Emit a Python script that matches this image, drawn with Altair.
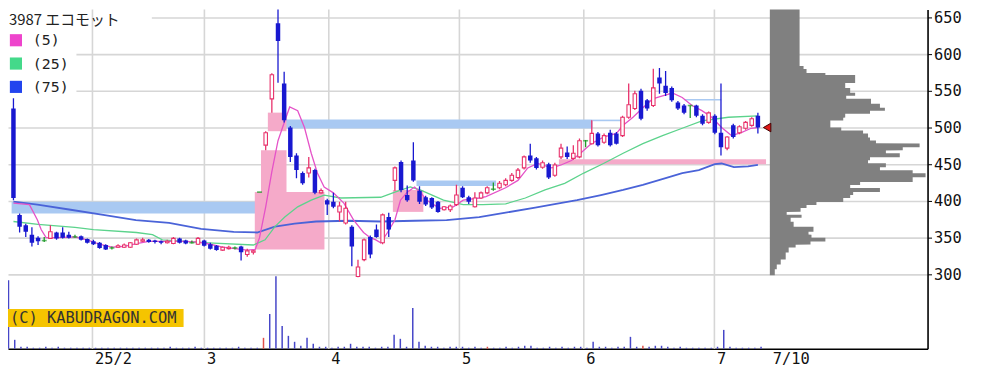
import altair as alt
import pandas as pd

# ---------------- data ----------------
opens = [526, 381, 367, 354, 350, 346, 349, 357, 357, 354, 351, 352, 348, 345, 343, 340, 336, 337, 337, 337,
         341, 345, 347, 346, 345, 343, 342, 349, 346, 343, 341, 346, 341, 339, 333, 335, 336, 338, 327, 330,
         412, 476, 539, 642, 560, 500, 462, 438, 438, 442, 411, 401, 399, 385, 370, 365, 297, 320, 351, 361,
         343, 378, 428, 453, 408, 455, 414, 405, 404, 399, 388, 388, 395, 418, 405, 392, 404, 411, 416, 418,
         422, 428, 432, 445, 462, 458, 446, 450, 435, 460, 466, 458, 460, 482, 478, 492, 480, 493, 492, 489,
         514, 526, 550, 537, 530, 568, 557, 554, 534, 530, 530, 530, 516, 507, 516, 493, 472, 503, 493, 499,
         503, 516]
highs = [540, 383, 369, 364, 352, 351, 367, 358, 364, 358, 354, 353, 349, 347, 344, 341, 338, 341, 342, 344,
         349, 350, 348, 347, 346, 347, 351, 350, 347, 346, 351, 347, 343, 340, 338, 339, 338, 339, 335, 333,
         412, 495, 574, 680, 576, 502, 465, 440, 460, 444, 417, 403, 411, 399, 399, 367, 320, 349, 353, 368,
         383, 384, 447, 455, 421, 480, 420, 407, 405, 400, 393, 395, 422, 420, 407, 412, 413, 420, 425, 427,
         431, 438, 445, 462, 478, 460, 455, 452, 452, 478, 474, 476, 485, 483, 510, 494, 492, 497, 494, 516,
         560, 550, 553, 539, 580, 581, 577, 556, 536, 532, 530, 531, 518, 522, 518, 560, 488, 505, 503, 509,
         514, 520]
lows = [401, 357, 351, 338, 340, 344, 348, 347, 349, 349, 350, 346, 342, 340, 335, 333, 334, 336, 336, 336,
        340, 344, 343, 342, 341, 342, 341, 342, 341, 342, 340, 338, 334, 332, 332, 334, 334, 319, 324, 327,
        412, 469, 520, 561, 507, 453, 431, 422, 432, 409, 410, 381, 390, 372, 368, 311, 296, 318, 322, 350,
        341, 351, 414, 412, 399, 426, 396, 393, 389, 384, 387, 385, 393, 404, 396, 391, 403, 409, 414, 416,
        420, 426, 430, 443, 452, 443, 444, 430, 433, 457, 457, 456, 458, 473, 477, 474, 478, 474, 477, 487,
        512, 524, 510, 523, 528, 546, 543, 535, 524, 518, 513, 514, 503, 505, 491, 462, 469, 485, 491, 497,
        501, 492]
closes = [404, 365, 358, 343, 345, 346, 358, 349, 350, 350, 351, 347, 343, 341, 336, 334, 336, 339, 340, 343,
          347, 347, 344, 344, 343, 345, 349, 343, 342, 343, 349, 339, 335, 333, 337, 337, 336, 330, 332, 332,
          412, 493, 572, 618, 510, 460, 442, 424, 445, 411, 414, 395, 392, 393, 390, 338, 310, 347, 327, 351,
          381, 361, 445, 415, 401, 428, 399, 395, 391, 385, 392, 393, 408, 405, 399, 404, 411, 418, 416, 424,
          428, 435, 442, 460, 455, 445, 452, 432, 449, 472, 460, 465, 482, 482, 492, 476, 489, 476, 478, 514,
          531, 546, 512, 526, 554, 560, 547, 537, 526, 520, 530, 516, 505, 520, 493, 473, 487, 487, 501, 507,
          512, 500]
volumes = [69, 9, 2, 2, 1, 1, 2, 1, 2, 1, 1, 1, 1, 1, 1, 1, 1, 1, 1, 1,
           1, 1, 1, 1, 1, 1, 2, 1, 1, 1, 2, 1, 1, 1, 1, 1, 1, 2, 1, 1,
           1, 11, 35, 73, 23, 13, 7, 3, 11, 5, 2, 2, 1, 2, 2, 5, 2, 2, 2, 1,
           2, 2, 14, 10, 2, 41, 7, 3, 2, 2, 1, 2, 2, 2, 1, 2, 1, 2, 1, 1,
           2, 1, 2, 3, 3, 1, 1, 2, 1, 2, 1, 2, 2, 1, 7, 2, 2, 1, 2, 2,
           12, 2, 3, 2, 3, 3, 2, 1, 2, 1, 1, 1, 1, 1, 2, 19, 2, 1, 1, 1,
           1, 2]
red_volume_days = [41, 77, 102]

ma5_idx = [0, 2.6, 3.9, 4.5, 5.3, 7, 10, 12, 14, 16, 18, 20, 22, 25, 28, 30, 32, 34, 36, 38, 39.3, 40, 41, 42, 43,
           44.1, 44.9, 46.2, 47.3, 48.4, 49.4, 50.5, 52, 53.7, 55.3, 56.9, 58, 58.9, 59.7, 60.8, 62, 62.9, 64,
           65.2, 66.1, 67.2, 68.3, 69.3, 71.5, 73.1, 75.7, 76.8, 80, 82, 83.6, 85.2, 87.5, 89, 90.7, 92.3, 93.9,
           95.9, 98, 99.1, 100.7, 102.3, 103.9, 105.5, 107.1, 108.7, 110.3, 111.9, 113.5, 115.1, 116.7, 118.3,
           119.9, 121]
ma5_val = [397, 395, 374, 361, 350, 350, 351, 347, 341, 337, 338, 342, 345, 345, 345, 344, 341, 337, 335, 333, 334,
           350, 392, 440, 482, 509, 528, 523, 500, 465, 438, 419, 411, 397, 374, 357, 350, 347, 343, 357, 374, 401,
           412, 419, 412, 401, 395, 390, 392, 401, 404, 406, 418, 428, 445, 451, 445, 449, 455, 466, 478, 487, 492,
           503, 514, 527, 539, 543, 547, 541, 530, 523, 514, 500, 489, 493, 499, 500]
ma25_idx = [0, 4, 10, 13, 20, 22.6, 24.2, 31.7, 39, 40.9, 42.5, 44.1, 46.2, 48.4, 50.5, 53.2, 59.7, 62, 64.5, 66.1,
            69.9, 73.1, 76.3, 80, 83.2, 86.4, 89.6, 92.7, 95.9, 99.1, 102.3, 105.5, 108.7, 111.9, 116.2, 121]
ma25_val = [372, 368, 364, 361, 357, 354, 347, 343, 340, 347, 365, 378, 392, 401, 408, 404, 405, 412, 419, 415,
            401, 395, 395, 396, 404, 415, 424, 438, 451, 465, 478, 489, 499, 509, 514, 516]
ma75_idx = [0, 3.9, 9.3, 14.6, 19.9, 25.3, 30.5, 35.8, 39.6, 42.5, 45.7, 49.2, 54.5, 59.7, 65.2, 70.4, 75.7, 80,
            84.8, 87.5, 91.6, 95.5, 99.1, 102.3, 106, 108.7, 111.4, 114, 115.1, 117.1, 119.4, 121]
ma75_val = [399, 395, 388, 381, 374, 370, 362, 358, 357, 365, 369, 372, 373, 372, 373, 374, 378, 384, 391, 395,
            401, 408, 415, 422, 431, 438, 442, 450, 451, 446, 447, 449]

# unfilled down-gaps (light blue) and up-gaps (pink)
blue_gap_x0 = [0.5, 44.6, 93.9, 65.6, 108.7]
blue_gap_x1 = [39.8, 93.9, 98.6, 78.4, 114.6]
blue_gap_lo = [383.0, 498.6, 508.6, 420.5, 536.9]
blue_gap_hi = [399.0, 510.8, 510.8, 428.0, 538.9]
pink_gap_x0 = [39.6, 40.6, 41.7, 61.8, 88.5]
pink_gap_x1 = [50.8, 44.7, 44.7, 66.7, 121.8]
pink_gap_lo = [333.8, 412.2, 495.0, 385.1, 450.0]
pink_gap_hi = [412.2, 468.9, 520.3, 414.9, 456.8]

# price-by-volume profile (bin edges from top, lengths)
profile_edges = [680, 583.8, 579.7, 574.3, 571.6, 560.8, 554, 547.3, 543.2, 539.2, 532.4, 527, 523, 518.9, 513.5,
                 509.5, 505.4, 500, 495.9, 491.9, 486.5, 482.4, 478.4, 473, 468.9, 464.9, 459.5, 455.4, 451.3, 446,
                 441.9, 437.8, 432.4, 425.7, 421.6, 417.6, 412.2, 408.1, 404.1, 398.6, 394.6, 390.5, 385.1, 381.1,
                 377, 371.6, 364.9, 358.1, 354.1, 350, 344.6, 340.5, 336.5, 329.7, 320.3, 313.5, 306.8, 298.6]
profile_len = [30, 34, 37, 56, 86, 76, 81, 86, 77, 102, 111, 116, 101, 76, 74, 61, 61, 72, 94, 99, 101, 107, 151,
               134, 117, 131, 101, 99, 117, 111, 144, 157, 144, 91, 81, 111, 84, 81, 74, 47, 37, 31, 17, 32, 21, 24,
               44, 39, 42, 56, 41, 26, 19, 16, 11, 7, 5]

month_idx = [13.5, 31.5, 51.5, 72.5, 92.5, 113.5]
tick_idx = month_idx + [122.5]
tick_lbl = ["25/2", "3", "4", "5", "6", "7", "7/10"]
price_ticks = [300, 350, 400, 450, 500, 550, 600, 650]

title_text = "3987 エコモット"
legend_lbl = ["(5)", "(25)", "(75)"]
legend_col = ["#ee44cc", "#44d98a", "#2244ee"]
watermark = "(C) KABUDRAGON.COM"

# ---------------- styling ----------------
W, H = 927, 342
X_DOMAIN = [-0.08, 147.77]
Y_DOMAIN = [198.65, 660.81]
RED, BLUE, GREEN = "#e8306a", "#1818d0", "#1f9a2a"
GRID = "#d6d6d6"
MONO = "DejaVu Sans Mono"
PROF = "#808080"

def xs():
    return alt.Scale(domain=X_DOMAIN, nice=False, zero=False)

def ys():
    return alt.Scale(domain=Y_DOMAIN, nice=False, zero=False)

label_expr = " : ".join(f"datum.value == {v} ? '{t}'" for v, t in zip(tick_idx, tick_lbl)) + " : ''"
x_axis = alt.Axis(orient="bottom", values=tick_idx, labelExpr=label_expr, grid=False, ticks=False,
                  domainColor="#000", domainWidth=1.6, labelAlign="left", labelBaseline="top",
                  labelFont=MONO, labelFontSize=15.5, labelColor="#111", labelPadding=3, labelOffset=2,
                  labelOverlap=False, labelFlush=False, title=None)
y_axis = alt.Axis(orient="right", values=price_ticks, grid=True, gridColor=GRID, gridWidth=1.6,
                  domainColor="#000", domainWidth=1.6, tickColor="#000", tickSize=4, labelFont=MONO,
                  labelFontSize=15.5, labelColor="#111", labelPadding=2, title=None)

def XA(f):
    return alt.X(f, type="quantitative", scale=xs(), axis=x_axis)

def YA(f):
    return alt.Y(f, type="quantitative", scale=ys(), axis=y_axis)

def XN(f):
    return alt.X(f, type="quantitative", scale=xs(), axis=None)

def YN(f):
    return alt.Y(f, type="quantitative", scale=ys(), axis=None)

# ---------------- frames ----------------
n = len(opens)
cdf = pd.DataFrame({"i": list(range(n)), "o": opens, "h": highs, "l": lows, "c": closes})
up = cdf[cdf.c > cdf.o]
dn = cdf[cdf.c < cdf.o]
fl = cdf[cdf.c == cdf.o]

vdf = pd.DataFrame({"i": list(range(n)), "v": volumes, "b": [0] * n})
v_red = vdf[vdf.i.isin(red_volume_days)]
v_blue = vdf[~vdf.i.isin(red_volume_days)]

bdf = pd.DataFrame({"x0": blue_gap_x0, "x1": blue_gap_x1, "lo": blue_gap_lo, "hi": blue_gap_hi})
pdf = pd.DataFrame({"x0": pink_gap_x0, "x1": pink_gap_x1, "lo": pink_gap_lo, "hi": pink_gap_hi})
gdf = pd.DataFrame({"g": month_idx})

# profile as one stepped outline: each bin contributes its two edges (nudged inward so the
# path order along the price axis is unambiguous)
EPS = 0.02
prof_rows = []
for k, ln in enumerate(profile_len):
    prof_rows.append({"p": profile_edges[k] - EPS, "len": ln})
    prof_rows.append({"p": profile_edges[k + 1] + EPS, "len": ln})
prof = pd.DataFrame(prof_rows).sort_values("p")

# ---------------- base (grid, backgrounds, gap boxes) ----------------
blank = pd.DataFrame({"a": [0]})
white_title = alt.Chart(blank).mark_rect(color="white").encode(
    x=alt.value(0), x2=alt.value(145), y=alt.value(0), y2=alt.value(20))
white_leg = alt.Chart(blank).mark_rect(color="white").encode(
    x=alt.value(0), x2=alt.value(69), y=alt.value(20), y2=alt.value(89))
vgrid = alt.Chart(gdf).mark_rule(color=GRID, strokeWidth=1.6).encode(x=XA("g"))
blue_boxes = alt.Chart(bdf).mark_rect(color="#a9c9f2").encode(x=XA("x0"), x2="x1", y=YA("lo"), y2="hi")
pink_boxes = alt.Chart(pdf).mark_rect(color="#f5aac9").encode(x=XA("x0"), x2="x1", y=YA("lo"), y2="hi")
base = alt.layer(white_title, white_leg, vgrid, blue_boxes, pink_boxes)

# ---------------- volume ----------------
vscale = alt.Scale(domain=[0, H], nice=False, zero=False)
vol_b = alt.Chart(v_blue).mark_rule(color="#4646c8", strokeWidth=1.5).encode(
    x=XN("i"), y=alt.Y("b:Q", scale=vscale, axis=None), y2="v")
vol_r = alt.Chart(v_red).mark_rule(color="#e0504a", strokeWidth=1.5).encode(
    x=XN("i"), y=alt.Y("b:Q", scale=vscale, axis=None), y2="v")
vol = alt.layer(vol_b, vol_r)

# ---------------- volume profile ----------------
prof_chart = alt.Chart(prof).mark_area(orient="horizontal", color=PROF, opacity=1, clip=True).encode(
    x=alt.X("len:Q", scale=alt.Scale(domain=[0, 160], range=[768, 928], nice=False, zero=True),
            axis=None, stack=False),
    y=YN("p"))

# ---------------- moving averages ----------------
def ma_line(ix, vals, color, width):
    d = pd.DataFrame({"i": ix, "v": vals})
    return alt.Chart(d).mark_line(color=color, strokeWidth=width, clip=True).encode(x=XN("i"), y=YN("v"))

ma75 = ma_line(ma75_idx, ma75_val, "#4a63d8", 1.8)
ma25 = ma_line(ma25_idx, ma25_val, "#5cd38c", 1.3)
ma5 = ma_line(ma5_idx, ma5_val, "#e552c8", 1.3)

# ---------------- candles ----------------
def wicks(d, color):
    return alt.Chart(d).mark_rule(color=color, strokeWidth=1.3, clip=True).encode(
        x=XN("i"), y=YN("l"), y2="h")

w_up = wicks(up, RED)
w_dn = wicks(dn, BLUE)
w_fl = wicks(fl, GREEN)
b_dn = alt.Chart(dn).mark_bar(size=4.5, color=BLUE, clip=True).encode(x=XN("i"), y=YN("o"), y2="c")
b_up = alt.Chart(up).mark_bar(size=3.5, fill="white", stroke=RED, strokeWidth=1.1, clip=True).encode(
    x=XN("i"), y=YN("o"), y2="c")
b_fl = alt.Chart(fl).mark_tick(orient="horizontal", size=5, thickness=1.6, color=GREEN).encode(
    x=XN("i"), y=YN("o"))

# current price marker
mk = pd.DataFrame({"i": [n - 1 + 1.5], "p": [closes[-1]]})
marker = alt.Chart(mk).mark_point(shape="triangle-left", filled=True, fill="#e01818", stroke="#400000",
                                  strokeWidth=1, size=75, opacity=1).encode(x=XN("i"), y=YN("p"))

# ---------------- texts ----------------
title = alt.Chart(pd.DataFrame({"t": [title_text]})).mark_text(
    align="left", baseline="middle", font="Noto Sans CJK JP", fontSize=15, color="#222").encode(
    x=alt.value(1), y=alt.value(11), text="t:N")

legend_layers = []
for k, (lab, col) in enumerate(zip(legend_lbl, legend_col)):
    yy = 31 + k * 23.5
    legend_layers.append(alt.Chart(blank).mark_square(size=150, color=col, opacity=1).encode(
        x=alt.value(8), y=alt.value(yy)))
    legend_layers.append(alt.Chart(pd.DataFrame({"t": [lab]})).mark_text(
        align="left", baseline="middle", font=MONO, fontSize=15, color="#222").encode(
        x=alt.value(25), y=alt.value(yy), text="t:N"))

wm_box = alt.Chart(blank).mark_rect(color="#f5c400").encode(
    x=alt.value(0), x2=alt.value(177), y=alt.value(302), y2=alt.value(320))
wm_text = alt.Chart(pd.DataFrame({"t": [watermark]})).mark_text(
    align="left", baseline="middle", font=MONO, fontSize=15.5, color="#333").encode(
    x=alt.value(2), y=alt.value(311.5), text="t:N")

top = alt.layer(ma75, ma25, ma5, w_up, w_dn, w_fl, b_dn, b_up, b_fl, marker,
                title, *legend_layers, wm_box, wm_text)

chart = alt.layer(base, vol, prof_chart, top).resolve_scale(
    x="independent", y="independent"
).properties(
    width=W, height=H,
    autosize=alt.AutoSizeParams(type="none"),
    padding={"left": 0, "top": 0, "right": 69, "bottom": 29},
    background="white",
).configure_view(stroke="transparent")

chart.save("out.html", embed_options={"renderer": "svg", "actions": False})
